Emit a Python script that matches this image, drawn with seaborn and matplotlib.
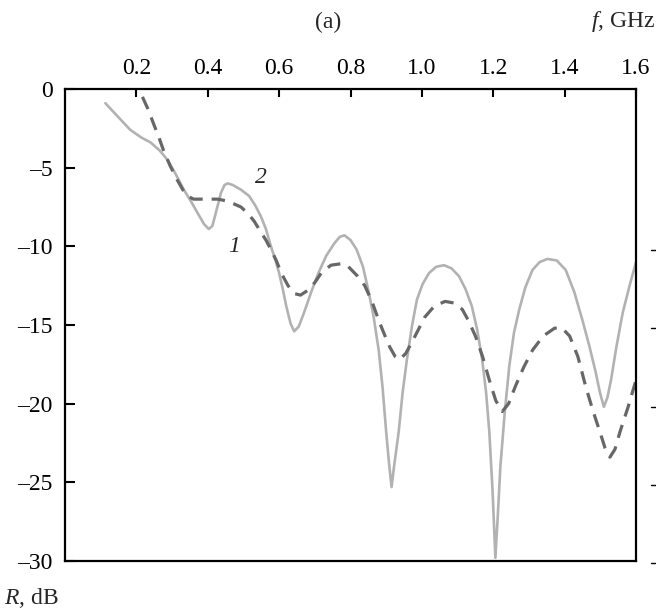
import matplotlib
matplotlib.use("Agg")
import matplotlib.pyplot as plt
from matplotlib.lines import Line2D
import seaborn as sns
import pandas as pd

# Curve 2 (solid, light gray)
f2 = [0.113, 0.15, 0.183, 0.215, 0.24, 0.265, 0.287, 0.31, 0.333, 0.352, 0.372, 0.39, 0.403, 0.413,
      0.42, 0.428, 0.437, 0.447, 0.456, 0.47, 0.493, 0.516, 0.533, 0.549, 0.563, 0.577, 0.59, 0.60, 0.61,
      0.62, 0.632, 0.642, 0.655, 0.67, 0.69, 0.71, 0.732, 0.755, 0.77, 0.783, 0.80, 0.817, 0.835,
      0.85, 0.865, 0.879, 0.89, 0.90, 0.908, 0.915, 0.922, 0.935, 0.946, 0.958, 0.972, 0.986, 1.002,
      1.02, 1.04, 1.062, 1.083, 1.104, 1.122, 1.14, 1.155, 1.169, 1.18, 1.189, 1.198, 1.206, 1.213,
      1.22, 1.232, 1.245, 1.258, 1.273, 1.29, 1.31, 1.33, 1.352, 1.378, 1.403, 1.427, 1.45, 1.47,
      1.487, 1.499, 1.51, 1.52, 1.53, 1.545, 1.563, 1.582, 1.6]
r2 = [-0.9, -1.8, -2.6, -3.1, -3.4, -3.9, -4.5, -5.4, -6.4, -7.1, -7.9, -8.6, -8.9, -8.7,
      -8.1, -7.4, -6.6, -6.1, -6.0, -6.1, -6.4, -6.8, -7.4, -8.1, -8.9, -10.0, -10.9, -11.7, -12.7,
      -13.8, -14.9, -15.4, -15.1, -14.2, -12.9, -11.7, -10.6, -9.8, -9.4, -9.3, -9.6, -10.2, -11.3,
      -12.8, -14.5, -16.6, -19.0, -21.8, -23.8, -25.3, -24.0, -21.8, -19.3, -17.2, -15.1, -13.4, -12.4,
      -11.7, -11.3, -11.2, -11.4, -11.9, -12.7, -13.8, -15.3, -17.2, -19.3, -21.8, -25.5, -29.8, -27.0,
      -24.0, -20.6, -17.6, -15.5, -14.0, -12.6, -11.5, -11.0, -10.8, -10.9, -11.5, -12.9, -14.7, -16.4,
      -18.0, -19.3, -20.2, -19.6, -18.5, -16.4, -14.2, -12.5, -11.0]

# Curve 1 (dashed, dark gray)
f1 = [0.217, 0.233, 0.248, 0.262, 0.276, 0.295, 0.315, 0.33, 0.343, 0.36, 0.38, 0.405, 0.428, 0.45,
      0.473, 0.493, 0.512, 0.53, 0.549, 0.563, 0.577, 0.592, 0.606, 0.625, 0.642, 0.66, 0.68, 0.70,
      0.718, 0.745, 0.775, 0.79, 0.803, 0.82, 0.84, 0.86, 0.879, 0.895, 0.91, 0.925, 0.938, 0.955,
      0.972, 0.99, 1.008, 1.035, 1.065, 1.09, 1.113, 1.13, 1.15, 1.17, 1.189, 1.207, 1.225, 1.243,
      1.262, 1.285, 1.31, 1.34, 1.372, 1.393, 1.414, 1.437, 1.459, 1.48, 1.499, 1.513, 1.527, 1.541,
      1.555, 1.578, 1.6]
r1 = [-0.5, -1.3, -2.2, -3.0, -3.9, -4.9, -5.8, -6.4, -6.8, -7.0, -7.0, -7.0, -7.0, -7.1,
      -7.3, -7.5, -7.9, -8.4, -9.1, -9.6, -10.2, -10.9, -11.7, -12.5, -13.0, -13.1, -12.8, -12.3,
      -11.7, -11.2, -11.1, -11.2, -11.5, -11.9, -12.5, -13.5, -14.7, -15.6, -16.4, -17.0, -17.2, -16.8,
      -16.1, -15.3, -14.5, -13.8, -13.5, -13.6, -14.0, -14.7, -15.7, -17.0, -18.5, -19.8, -20.5, -20.0,
      -18.9, -17.7, -16.6, -15.7, -15.2, -15.2, -15.7, -17.0, -18.9, -20.5, -21.8, -22.8, -23.4, -22.9,
      -21.8, -20.2, -18.5]

xticks = [0.2, 0.4, 0.6, 0.8, 1.0, 1.2, 1.4, 1.6]
xticklabels = ["0.2", "0.4", "0.6", "0.8", "1.0", "1.2", "1.4", "1.6"]
yticks = [0, -5, -10, -15, -20, -25, -30]
yticklabels = ["0", "\u20135", "\u201310", "\u201315", "\u201320", "\u201325", "\u201330"]

FS = 17

sns.set_style("white")
plt.rcParams["font.family"] = ["Liberation Serif", "DejaVu Serif"]
plt.rcParams["mathtext.fontset"] = "custom"
plt.rcParams["mathtext.rm"] = "Liberation Serif"
plt.rcParams["mathtext.it"] = "Liberation Serif:italic"

fig = plt.figure(figsize=(6.56, 6.14), dpi=100)
ax = fig.add_axes([65 / 656, 1 - 561 / 614, (636 - 65) / 656, (561 - 89) / 614])

d2 = pd.DataFrame({"f": f2, "R": r2})
d1 = pd.DataFrame({"f": f1, "R": r1})
sns.lineplot(data=d2, x="f", y="R", ax=ax, color="#b2b2b2", linewidth=1.9, sort=False)
sns.lineplot(data=d1, x="f", y="R", ax=ax, color="#676767", linewidth=2.3, sort=False,
             linestyle=(0, (4.2, 2.8)))

ax.set_xlim(0, 1.6)
ax.set_ylim(-30, 0)
ax.set_xlabel("")
ax.set_ylabel("")
ax.xaxis.tick_top()
ax.set_xticks(xticks)
ax.set_xticklabels(xticklabels)
ax.set_yticks(yticks)
ax.set_yticklabels(yticklabels)
ax.tick_params(axis="x", direction="in", length=6, width=1.5, labelsize=FS, pad=7,
               top=True, bottom=False, colors="black")
ax.tick_params(axis="y", direction="in", length=7, width=1.5, labelsize=FS, pad=9,
               left=True, right=False, colors="black")
for s in ax.spines.values():
    s.set_visible(True)
    s.set_color("black")
    s.set_linewidth(1.6)

ax.text(0.548, -5.6, "2", fontsize=FS, fontstyle="italic", ha="center", va="center")
ax.text(0.473, -10.0, "1", fontsize=FS, fontstyle="italic", ha="center", va="center")

fig.text(328 / 656, 1 - 22 / 614, "(a)", fontsize=FS, ha="center", va="center")
fig.text(655 / 656, 1 - 22 / 614, "$f$, GHz", fontsize=FS, ha="right", va="center")
fig.text(4 / 656, 1 - 598 / 614, "$R$, dB", fontsize=FS, ha="left", va="center")

# cut-off minus signs of the neighbouring panel's tick labels
for py in [250, 328, 407, 485, 563]:
    fig.add_artist(Line2D([651 / 656, 1.0], [1 - py / 614, 1 - py / 614],
                          transform=fig.transFigure, color="black", linewidth=1.0))

fig.savefig("out.png", dpi=100)
